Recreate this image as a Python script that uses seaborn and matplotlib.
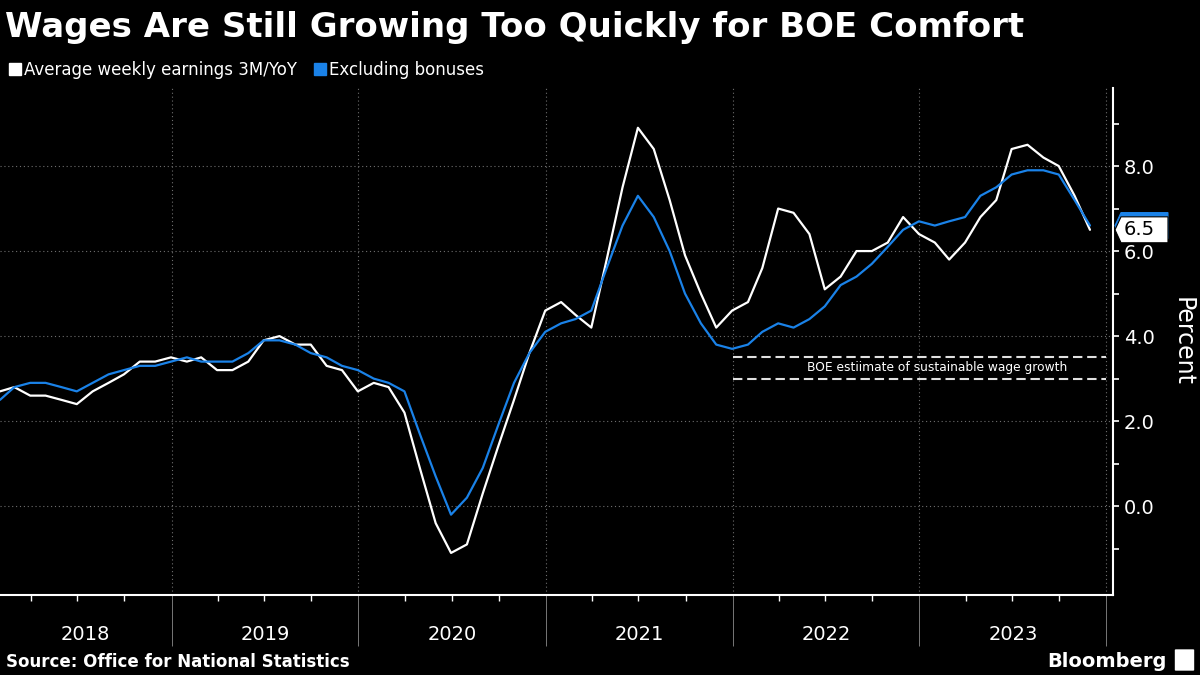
import numpy as np
import pandas as pd
import matplotlib
matplotlib.use("Agg")
from matplotlib import pyplot as plt
import matplotlib.dates as mdates
from matplotlib.lines import Line2D
from matplotlib.patches import Polygon, FancyBboxPatch
import seaborn as sns

# monthly, 3M/YoY %, Jan 2018 .. Nov 2023
months = pd.date_range("2018-01-31", periods=71, freq="ME")
total_pay = [2.7, 2.8, 2.6, 2.6, 2.5, 2.4, 2.7, 2.9, 3.1, 3.4, 3.4, 3.5,
             3.4, 3.5, 3.2, 3.2, 3.4, 3.9, 4.0, 3.8, 3.8, 3.3, 3.2, 2.7,
             2.9, 2.8, 2.2, 0.9, -0.4, -1.1, -0.9, 0.3, 1.4, 2.5, 3.6, 4.6,
             4.8, 4.5, 4.2, 5.8, 7.5, 8.9, 8.4, 7.2, 5.9, 5.0, 4.2, 4.6,
             4.8, 5.6, 7.0, 6.9, 6.4, 5.1, 5.4, 6.0, 6.0, 6.2, 6.8, 6.4,
             6.2, 5.8, 6.2, 6.8, 7.2, 8.4, 8.5, 8.2, 8.0, 7.3, 6.5]
regular_pay = [2.5, 2.8, 2.9, 2.9, 2.8, 2.7, 2.9, 3.1, 3.2, 3.3, 3.3, 3.4,
               3.5, 3.4, 3.4, 3.4, 3.6, 3.9, 3.9, 3.8, 3.6, 3.5, 3.3, 3.2,
               3.0, 2.9, 2.7, 1.7, 0.7, -0.2, 0.2, 0.9, 1.9, 2.9, 3.6, 4.1,
               4.3, 4.4, 4.6, 5.6, 6.6, 7.3, 6.8, 6.0, 5.0, 4.3, 3.8, 3.7,
               3.8, 4.1, 4.3, 4.2, 4.4, 4.7, 5.2, 5.4, 5.7, 6.1, 6.5, 6.7,
               6.6, 6.7, 6.8, 7.3, 7.5, 7.8, 7.9, 7.9, 7.8, 7.2, 6.6]

series_names = ["Average weekly earnings 3M/YoY", "Excluding bonuses"]
series_colors = ["#ffffff", "#1a82e8"]

boe_band = [3.0, 3.5]
boe_start, boe_end = pd.Timestamp("2022-01-01"), pd.Timestamp("2024-01-01")
boe_text = "BOE estiimate of sustainable wage growth"

y_major = [0, 2, 4, 6, 8]
y_minor = [-1, 1, 3, 5, 7, 9]
years = [2018, 2019, 2020, 2021, 2022, 2023]

title = "Wages Are Still Growing Too Quickly for BOE Comfort"
source = "Source: Office for National Statistics"

df = pd.DataFrame({"date": months, series_names[0]: total_pay, series_names[1]: regular_pay})
long_df = df.melt(id_vars="date", var_name="series", value_name="pct")

sns.set_theme(style="dark", rc={"axes.facecolor": "black", "figure.facecolor": "black"})
plt.rcParams["font.family"] = ["DejaVu Sans"]

fig = plt.figure(figsize=(12, 6.75), dpi=100, facecolor="black")
ax = fig.add_axes([0, 0.1185, 0.9275, 0.7511])
ax.set_facecolor("black")

sns.lineplot(data=long_df, x="date", y="pct", hue="series", hue_order=series_names,
             palette=dict(zip(series_names, series_colors)), linewidth=1.6,
             legend=False, ax=ax)

x_left, x_right = pd.Timestamp("2018-01-31"), pd.Timestamp("2024-01-14")
ax.set_xlim(x_left, x_right)
ax.set_ylim(-2.09, 9.835)
ax.set_xlabel("")
ax.set_ylabel("")

# BOE band
ax.hlines(boe_band, boe_start, boe_end, colors="#e0e0e0", linestyles=(0, (4.5, 2.3)), linewidth=1.5)
ax.text(pd.Timestamp("2023-02-05"), np.mean(boe_band), boe_text, ha="center", va="center",
        fontsize=8.8, color="white")

# axes styling
for side in ["left", "top"]:
    ax.spines[side].set_visible(False)
for side in ["bottom", "right"]:
    ax.spines[side].set_visible(True)
    ax.spines[side].set_color("white")
    ax.spines[side].set_linewidth(1.5)

ax.yaxis.tick_right()
ax.set_yticks(y_major)
ax.set_yticklabels([f"{v:.1f}" for v in y_major])
ax.set_yticks(y_minor, minor=True)
ax.tick_params(axis="y", which="both", length=4, width=1.2, color="white",
               labelsize=14, labelcolor="white", pad=4, left=False, right=True)

ax.xaxis.set_major_locator(mdates.YearLocator())
ax.xaxis.set_minor_locator(mdates.MonthLocator(bymonth=[4, 7, 10]))
ax.tick_params(axis="x", which="major", length=37, width=0.6, color="#8a8a8a",
               labelbottom=False, bottom=True)
ax.tick_params(axis="x", which="minor", length=4, width=1.0, color="white", bottom=True)

ax.grid(True, which="major", axis="both", color="#6e6e6e", linestyle=(0, (1, 2.5)), linewidth=0.8)

# year labels centred in each visible year span
for yr in years:
    a = max(pd.Timestamp(f"{yr}-01-01"), x_left)
    b = min(pd.Timestamp(f"{yr + 1}-01-01"), pd.Timestamp("2024-01-01"))
    ax.text(a + (b - a) / 2, -0.077, str(yr), transform=ax.get_xaxis_transform(),
            ha="center", va="center", fontsize=14, color="white")

ax.text(1.063, 0.5, "Percent", transform=ax.transAxes, rotation=-90,
        ha="center", va="center", fontsize=17, color="white")

# last value tags
trans = ax.get_yaxis_transform()
def value_tag(value, face, edge):
    h = 0.305
    pts = [(1.0018, value), (1.0072, value + h), (1.0494, value + h),
           (1.0494, value - h), (1.0072, value - h)]
    ax.add_patch(Polygon(pts, closed=True, transform=trans, facecolor=face,
                         edgecolor=edge, linewidth=0.8, clip_on=False, zorder=5))

value_tag(regular_pay[-1], series_colors[1], series_colors[1])
value_tag(total_pay[-1], "white", "black")
ax.text(1.0095, total_pay[-1], f"{total_pay[-1]:.1f}", transform=trans, ha="left",
        va="center", fontsize=14, color="black", zorder=6, clip_on=False)

# title, legend, footer
fig.text(0.004, 1 - 37 / 675, title, fontsize=24.5, fontweight="bold", color="white", va="baseline")

handles = [Line2D([], [], marker="s", linestyle="", color=c, markersize=9) for c in series_colors]
fig.legend(handles, series_names, loc="center left", bbox_to_anchor=(0.002, 1 - 70 / 675),
           ncol=2, frameon=False, fontsize=12, labelcolor="white", handlelength=0.7,
           handletextpad=0.2, columnspacing=1.0, borderaxespad=0)

fig.text(0.005, 1 - 667 / 675, source, fontsize=12, fontweight="bold", color="white", va="baseline")
fig.text(1167 / 1200, 1 - 667 / 675, "Bloomberg", fontsize=14, fontweight="bold",
         color="white", va="baseline", ha="right")
fig.patches.append(FancyBboxPatch((1176 / 1200, 1 - 670 / 675), 17 / 1200, 20 / 675,
                                  boxstyle="round,pad=0.001", transform=fig.transFigure,
                                  facecolor="white", edgecolor="none"))

fig.savefig("out.png", dpi=100, facecolor="black")
